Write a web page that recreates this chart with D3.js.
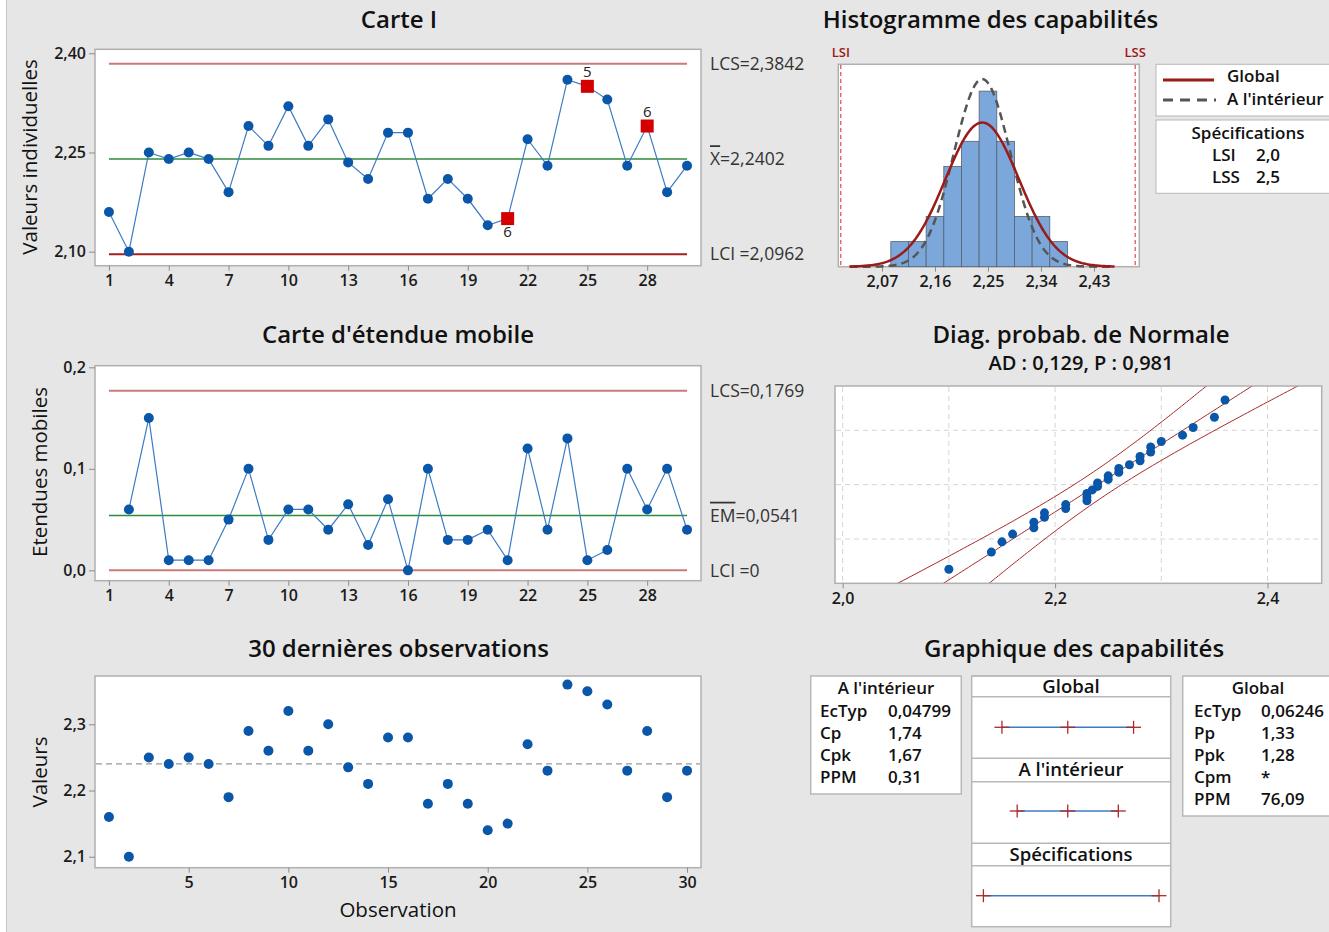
<!DOCTYPE html>
<html>
<head>
<meta charset="utf-8">
<script src="https://cdn.jsdelivr.net/npm/d3@7"></script>
<style>
  body { margin: 0; background: #fff; }
  text { font-family: "Open Sans", "Noto Sans", sans-serif; }
</style>
</head>
<body>
<svg id="chart"></svg>
<script>
// chart data
var observations = d3.range(1, 31);
var values = [2.16, 2.10, 2.25, 2.24, 2.25, 2.24, 2.19, 2.29, 2.26, 2.32,
              2.26, 2.30, 2.235, 2.21, 2.28, 2.28, 2.18, 2.21, 2.18, 2.14,
              2.15, 2.27, 2.23, 2.36, 2.35, 2.33, 2.23, 2.29, 2.19, 2.23];
// moving ranges for observations 2..30
var movingRanges = [0.06, 0.15, 0.01, 0.01, 0.01, 0.05, 0.10, 0.03, 0.06, 0.06,
                    0.04, 0.065, 0.025, 0.07, 0.00, 0.10, 0.03, 0.03, 0.04, 0.01,
                    0.12, 0.04, 0.13, 0.01, 0.02, 0.10, 0.06, 0.10, 0.04];
var flaggedObs = [21, 25, 28];
var flaggedLabels = ["6", "5", "6"];
var flaggedAbove = [false, true, true];

var iLimits = [2.3842, 2.2402, 2.0962];
var iLimitNames = ["LCS=2,3842", "X", "LCI =2,0962"];
var mrLimits = [0.1769, 0.0541, 0];
var mrLimitNames = ["LCS=0,1769", "EM", "LCI =0"];

var binEdges = [2.085, 2.115, 2.145, 2.175, 2.205, 2.235, 2.265, 2.295, 2.325, 2.355, 2.385];
var binCounts = [1, 1, 2, 4, 5, 7, 5, 2, 2, 1];

var mean = 2.2402;
var sdWithin = 0.04799;
var sdOverall = 0.06246;
var specLimits = [2.0, 2.5];

var iXTicks = [1, 4, 7, 10, 13, 16, 19, 22, 25, 28];
var iYTicks = [2.10, 2.25, 2.40];
var mrYTicks = [0.0, 0.1, 0.2];
var lastXTicks = [5, 10, 15, 20, 25, 30];
var lastYTicks = [2.1, 2.2, 2.3];
var histTicks = [2.07, 2.16, 2.25, 2.34, 2.43];
var probTicks = [2.0, 2.2, 2.4];
var probGridX = [2.0, 2.1, 2.2, 2.3, 2.4];
var probGridP = [0.1, 0.5, 0.9];

var withinLabels = ["EcTyp", "Cp", "Cpk", "PPM"];
var withinValues = ["0,04799", "1,74", "1,67", "0,31"];
var overallLabels = ["EcTyp", "Pp", "Ppk", "Cpm", "PPM"];
var overallValues = ["0,06246", "1,33", "1,28", "*", "76,09"];

var W = 1329, H = 932;
var FONT = '"Open Sans", "Noto Sans", sans-serif';
var BLUE = "#0a56a8";
var LINEBLUE = "#3c7cc4";
var PINK = "#c97a7a";
var DARKRED = "#a32020";
var GREEN = "#2e8b3e";
var TITLE_SIZE = 24;
var LABEL_SIZE = 20.5;

var fr = d3.formatLocale({decimal: ",", thousands: " ", grouping: [3], currency: ["", " €"]});

var svg = d3.select("#chart").attr("width", W).attr("height", H);
svg.append("rect").attr("width", W).attr("height", H).attr("fill", "#fff");
svg.append("rect").attr("x", 6).attr("width", W - 6).attr("height", H).attr("fill", "#e6e6e6");
svg.append("line").attr("x1", 6.5).attr("x2", 6.5).attr("y1", 0).attr("y2", H)
  .attr("stroke", "#c4c4c4");

function title(txt, x, y, size) {
  svg.append("text").attr("x", x).attr("y", y).attr("text-anchor", "middle")
    .attr("font-size", size || TITLE_SIZE).attr("font-weight", 600).attr("fill", "#111")
    .text(txt);
}

function frame(x0, y0, x1, y1) {
  svg.append("rect").attr("x", x0).attr("y", y0).attr("width", x1 - x0).attr("height", y1 - y0)
    .attr("fill", "#fff").attr("stroke", "#b0b0b0").attr("stroke-width", 1.5);
}

function styleAxis(g) {
  g.select(".domain").remove();
  g.attr("font-family", FONT).attr("font-size", 16).attr("font-weight", 600);
  g.selectAll(".tick line").attr("stroke", "#8c8c8c");
  g.selectAll(".tick text").attr("fill", "#1a1a1a");
}

function yLabel(txt, x, y) {
  svg.append("text").attr("transform", "translate(" + x + "," + y + ") rotate(-90)")
    .attr("text-anchor", "middle").attr("dy", "0.35em")
    .attr("font-size", LABEL_SIZE).attr("fill", "#111").text(txt);
}

function limitLabel(name, x, y, tail) {
  var t = svg.append("text").attr("x", x).attr("y", y).attr("dy", "0.36em")
    .attr("font-size", 17.5).attr("fill", "#333");
  if (tail) {
    t.append("tspan").style("text-decoration", "overline").text(name);
    t.append("tspan").text(tail);
  } else {
    t.text(name);
  }
}

// ---------- Carte I ----------
var xObs = d3.scaleLinear().domain([0.3, 30.7]).range([95, 701]);
var yI = d3.scaleLinear().domain([2.0788, 2.406]).range([265.7, 49.3]);

title("Carte I", 399, 28);
frame(95, 49.3, 701, 265.7);
svg.append("g").attr("transform", "translate(0,265.7)")
  .call(d3.axisBottom(xObs).tickValues(iXTicks).tickSize(5).tickPadding(4).tickFormat(d3.format("d")))
  .call(styleAxis);
svg.append("g").attr("transform", "translate(95,0)")
  .call(d3.axisLeft(yI).tickValues(iYTicks).tickSize(6).tickPadding(3).tickFormat(fr.format(".2f")))
  .call(styleAxis);
yLabel("Valeurs individuelles", 30, 157);

var iColors = [PINK, GREEN, DARKRED];
iLimits.forEach(function(v, i) {
  svg.append("line").attr("x1", xObs(1)).attr("x2", xObs(30))
    .attr("y1", yI(v)).attr("y2", yI(v))
    .attr("stroke", iColors[i]).attr("stroke-width", i === 1 ? 1.5 : 2);
});
limitLabel(iLimitNames[0], 710, yI(iLimits[0]));
limitLabel(iLimitNames[1], 710, yI(iLimits[1]), "=2,2402");
limitLabel(iLimitNames[2], 710, yI(iLimits[2]));

svg.append("path").datum(values)
  .attr("fill", "none").attr("stroke", LINEBLUE).attr("stroke-width", 1.2)
  .attr("d", d3.line().x(function(d, i) { return xObs(observations[i]); }).y(function(d) { return yI(d); }));
svg.append("g").selectAll("circle").data(values).enter().append("circle")
  .attr("cx", function(d, i) { return xObs(observations[i]); })
  .attr("cy", function(d) { return yI(d); })
  .attr("r", 5).attr("fill", BLUE);
flaggedObs.forEach(function(o, k) {
  var v = values[o - 1];
  svg.append("rect").attr("x", xObs(o) - 6.5).attr("y", yI(v) - 6.5)
    .attr("width", 13).attr("height", 13).attr("fill", "#d40000");
  svg.append("text").attr("x", xObs(o)).attr("y", flaggedAbove[k] ? yI(v) - 9 : yI(v) + 18)
    .attr("text-anchor", "middle").attr("font-size", 15).attr("fill", "#222")
    .text(flaggedLabels[k]);
});

// ---------- Carte d'étendue mobile ----------
var yMR = d3.scaleLinear().domain([-0.0102, 0.2016]).range([580.7, 365.7]);

title("Carte d'étendue mobile", 398, 343);
frame(95, 365.7, 701, 580.7);
svg.append("g").attr("transform", "translate(0,580.7)")
  .call(d3.axisBottom(xObs).tickValues(iXTicks).tickSize(5).tickPadding(4).tickFormat(d3.format("d")))
  .call(styleAxis);
svg.append("g").attr("transform", "translate(95,0)")
  .call(d3.axisLeft(yMR).tickValues(mrYTicks).tickSize(6).tickPadding(3).tickFormat(fr.format(".1f")))
  .call(styleAxis);
yLabel("Etendues mobiles", 40, 472);

var mrColors = [PINK, GREEN, PINK];
mrLimits.forEach(function(v, i) {
  svg.append("line").attr("x1", xObs(1)).attr("x2", xObs(30))
    .attr("y1", yMR(v)).attr("y2", yMR(v))
    .attr("stroke", mrColors[i]).attr("stroke-width", i === 1 ? 1.5 : 2);
});
limitLabel(mrLimitNames[0], 710, yMR(mrLimits[0]));
limitLabel(mrLimitNames[1], 710, yMR(mrLimits[1]), "=0,0541");
limitLabel(mrLimitNames[2], 710, yMR(mrLimits[2]));

svg.append("path").datum(movingRanges)
  .attr("fill", "none").attr("stroke", LINEBLUE).attr("stroke-width", 1.2)
  .attr("d", d3.line().x(function(d, i) { return xObs(observations[i + 1]); }).y(function(d) { return yMR(d); }));
svg.append("g").selectAll("circle").data(movingRanges).enter().append("circle")
  .attr("cx", function(d, i) { return xObs(observations[i + 1]); })
  .attr("cy", function(d) { return yMR(d); })
  .attr("r", 5).attr("fill", BLUE);

// ---------- 30 dernières observations ----------
var yV = d3.scaleLinear().domain([2.0834, 2.373]).range([867.7, 676]);

title("30 dernières observations", 398.5, 657);
frame(95, 676, 701, 867.7);
svg.append("g").attr("transform", "translate(0,867.7)")
  .call(d3.axisBottom(xObs).tickValues(lastXTicks).tickSize(5).tickPadding(4).tickFormat(d3.format("d")))
  .call(styleAxis);
svg.append("g").attr("transform", "translate(95,0)")
  .call(d3.axisLeft(yV).tickValues(lastYTicks).tickSize(6).tickPadding(3).tickFormat(fr.format(".1f")))
  .call(styleAxis);
yLabel("Valeurs", 40, 772);
svg.append("text").attr("x", 398).attr("y", 910).attr("dy", "0.35em").attr("text-anchor", "middle")
  .attr("font-size", LABEL_SIZE).attr("fill", "#111").text("Observation");

svg.append("line").attr("x1", 96).attr("x2", 700).attr("y1", yV(mean)).attr("y2", yV(mean))
  .attr("stroke", "#9a9a9a").attr("stroke-width", 1.2).attr("stroke-dasharray", "6,4");
svg.append("g").selectAll("circle").data(values).enter().append("circle")
  .attr("cx", function(d, i) { return xObs(observations[i]); })
  .attr("cy", function(d) { return yV(d); })
  .attr("r", 5).attr("fill", BLUE);

// ---------- Histogramme des capabilités ----------
var xH = d3.scaleLinear().domain([1.9958, 2.507]).range([838.3, 1139.3]);
var yH = d3.scaleLinear().domain([0, 8.07]).range([266.7, 64.3]);

title("Histogramme des capabilités", 990.5, 28);
frame(838.3, 64.3, 1139.3, 266.7);
svg.append("g").attr("transform", "translate(0,266.7)")
  .call(d3.axisBottom(xH).tickValues(histTicks).tickSize(5).tickPadding(4).tickFormat(fr.format(".2f")))
  .call(styleAxis);

svg.append("g").selectAll("rect").data(binCounts).enter().append("rect")
  .attr("x", function(d, i) { return xH(binEdges[i]); })
  .attr("y", function(d) { return yH(d); })
  .attr("width", function(d, i) { return xH(binEdges[i + 1]) - xH(binEdges[i]); })
  .attr("height", function(d) { return yH(0) - yH(d); })
  .attr("fill", "#7ba7db").attr("stroke", "#56606e").attr("stroke-width", 0.8);

specLimits.forEach(function(v, i) {
  svg.append("line").attr("x1", xH(v)).attr("x2", xH(v)).attr("y1", 65).attr("y2", 266)
    .attr("stroke", "#e0484c").attr("stroke-width", 1.2).attr("stroke-dasharray", "4,3");
  svg.append("text").attr("x", xH(v)).attr("y", 52).attr("dy", "0.35em").attr("text-anchor", "middle")
    .attr("font-size", 13).attr("font-weight", 600).attr("fill", "#a01818")
    .text(i === 0 ? "LSI" : "LSS");
});

// fitted normal curves, scaled to counts (n * bin width)
function normalCurve(sd) {
  var k = values.length * (binEdges[1] - binEdges[0]);
  return d3.range(2.015, 2.4675, 0.0025).map(function(x) {
    var z = (x - mean) / sd;
    return [x, k * Math.exp(-0.5 * z * z) / (sd * Math.sqrt(2 * Math.PI))];
  });
}
var curveLine = d3.line().x(function(d) { return xH(d[0]); }).y(function(d) { return yH(d[1]); });
svg.append("path").datum(normalCurve(sdWithin)).attr("d", curveLine)
  .attr("fill", "none").attr("stroke", "#555").attr("stroke-width", 2.5).attr("stroke-dasharray", "8,5");
svg.append("path").datum(normalCurve(sdOverall)).attr("d", curveLine)
  .attr("fill", "none").attr("stroke", "#9b1b1b").attr("stroke-width", 2.5);

// legend
svg.append("rect").attr("x", 1156).attr("y", 64.3).attr("width", 190).attr("height", 51.7)
  .attr("fill", "#fff").attr("stroke", "#b8b8b8");
svg.append("line").attr("x1", 1163).attr("x2", 1214).attr("y1", 80).attr("y2", 80)
  .attr("stroke", "#9b1b1b").attr("stroke-width", 3);
svg.append("line").attr("x1", 1163).attr("x2", 1216).attr("y1", 100).attr("y2", 100)
  .attr("stroke", "#555").attr("stroke-width", 3).attr("stroke-dasharray", "10,7");
svg.append("text").attr("x", 1227).attr("y", 76).attr("dy", "0.35em").attr("font-size", 17)
  .attr("font-weight", 600).attr("fill", "#111").text("Global");
svg.append("text").attr("x", 1227).attr("y", 99).attr("dy", "0.35em").attr("font-size", 17)
  .attr("font-weight", 600).attr("fill", "#111").text("A l'intérieur");

svg.append("rect").attr("x", 1156).attr("y", 120).attr("width", 190).attr("height", 73.3)
  .attr("fill", "#fff").attr("stroke", "#b8b8b8");
svg.append("text").attr("x", 1248).attr("y", 133).attr("dy", "0.35em").attr("text-anchor", "middle")
  .attr("font-size", 17).attr("font-weight", 600).attr("fill", "#111").text("Spécifications");
["LSI", "LSS"].forEach(function(nm, i) {
  svg.append("text").attr("x", 1212).attr("y", 155 + i * 22).attr("dy", "0.35em")
    .attr("font-size", 17).attr("font-weight", 600).attr("fill", "#111").text(nm);
  svg.append("text").attr("x", 1256).attr("y", 155 + i * 22).attr("dy", "0.35em")
    .attr("font-size", 17).attr("font-weight", 600).attr("fill", "#111").text(fr.format(".1f")(specLimits[i]));
});

// ---------- Diag. probab. de Normale ----------
function probit(p) {
  var a = [-3.969683028665376e+01, 2.209460984245205e+02, -2.759285104469687e+02,
           1.383577518672690e+02, -3.066479806614716e+01, 2.506628277459239e+00];
  var b = [-5.447609879822406e+01, 1.615858368580409e+02, -1.556989798598866e+02,
           6.680131188771972e+01, -1.328068155922803e+01];
  var c = [-7.784894002430293e-03, -3.223964580411365e-01, -2.400758277161838e+00,
           -2.549732539343734e+00, 4.374664141464968e+00, 2.938163982698783e+00];
  var d = [7.784695709041462e-03, 3.224671290700398e-01, 2.445134137142996e+00,
           3.754408661907416e+00];
  var q, r;
  if (p < 0.02425) {
    q = Math.sqrt(-2 * Math.log(p));
    return (((((c[0]*q+c[1])*q+c[2])*q+c[3])*q+c[4])*q+c[5]) / ((((d[0]*q+d[1])*q+d[2])*q+d[3])*q+1);
  }
  if (p > 1 - 0.02425) {
    q = Math.sqrt(-2 * Math.log(1 - p));
    return -(((((c[0]*q+c[1])*q+c[2])*q+c[3])*q+c[4])*q+c[5]) / ((((d[0]*q+d[1])*q+d[2])*q+d[3])*q+1);
  }
  q = p - 0.5; r = q * q;
  return (((((a[0]*r+a[1])*r+a[2])*r+a[3])*r+a[4])*r+a[5])*q / (((((b[0]*r+b[1])*r+b[2])*r+b[3])*r+b[4])*r+1);
}

var xP = d3.scaleLinear().domain([1.9928, 2.451]).range([835, 1321.7]);
var yP = d3.scaleLinear().domain([-2.326, 2.326]).range([583.3, 386]);

title("Diag. probab. de Normale", 1081, 343);
svg.append("text").attr("x", 1081).attr("y", 370).attr("text-anchor", "middle")
  .attr("font-size", 20).attr("font-weight", 600).attr("fill", "#111").text("AD : 0,129, P : 0,981");
frame(835, 386, 1321.7, 583.3);
svg.append("g").attr("transform", "translate(0,583.3)")
  .call(d3.axisBottom(xP).tickValues(probTicks).tickSize(5).tickPadding(4).tickFormat(fr.format(".1f")))
  .call(styleAxis);

svg.append("g").selectAll("line").data(probGridX).enter().append("line")
  .attr("x1", function(d) { return xP(d); }).attr("x2", function(d) { return xP(d); })
  .attr("y1", 387).attr("y2", 582.5)
  .attr("stroke", "#d4d4d4").attr("stroke-dasharray", "5,4");
svg.append("g").selectAll("line").data(probGridP).enter().append("line")
  .attr("x1", 836).attr("x2", 1321)
  .attr("y1", function(d) { return yP(probit(d)); }).attr("y2", function(d) { return yP(probit(d)); })
  .attr("stroke", "#d4d4d4").attr("stroke-dasharray", "5,4");

svg.append("clipPath").attr("id", "probClip").append("rect")
  .attr("x", 835.5).attr("y", 386.5).attr("width", 485.5).attr("height", 196.3);
var bandG = svg.append("g").attr("clip-path", "url(#probClip)");
var zs = d3.range(-2.8, 2.81, 0.05);
var n = values.length;
function band(sign) {
  return zs.map(function(z) {
    var half = 1.96 * sdOverall * Math.sqrt(1 / n + z * z / (2 * n));
    return [mean + sdOverall * z + sign * half, z];
  });
}
var probLine = d3.line().x(function(d) { return xP(d[0]); }).y(function(d) { return yP(d[1]); });
[band(-1), band(0), band(1)].forEach(function(b) {
  bandG.append("path").datum(b).attr("d", probLine)
    .attr("fill", "none").attr("stroke", "#a8282a").attr("stroke-width", 1);
});

var sorted = values.slice().sort(d3.ascending);
svg.append("g").selectAll("circle").data(sorted).enter().append("circle")
  .attr("cx", function(d) { return xP(d); })
  .attr("cy", function(d, i) { return yP(probit((i + 1 - 0.3) / (n + 0.4))); })
  .attr("r", 4.5).attr("fill", BLUE);

// ---------- Graphique des capabilités ----------
title("Graphique des capabilités", 1074, 657);

function statBox(x0, y0, w, h, head, headX, labels, vals, labX, valX) {
  svg.append("rect").attr("x", x0).attr("y", y0).attr("width", w).attr("height", h)
    .attr("fill", "#fff").attr("stroke", "#b8b8b8").attr("stroke-width", 1.5);
  svg.append("text").attr("x", headX).attr("y", 688.5).attr("dy", "0.35em").attr("text-anchor", "middle")
    .attr("font-size", 17).attr("font-weight", 600).attr("fill", "#111").text(head);
  labels.forEach(function(l, i) {
    var y = 711 + i * 21.9;
    svg.append("text").attr("x", labX).attr("y", y).attr("dy", "0.35em")
      .attr("font-size", 17).attr("font-weight", 600).attr("fill", "#111").text(l);
    svg.append("text").attr("x", valX).attr("y", y).attr("dy", "0.35em")
      .attr("font-size", 17).attr("font-weight", 600).attr("fill", "#111").text(vals[i]);
  });
}
statBox(810.7, 676, 150.6, 118, "A l'intérieur", 886, withinLabels, withinValues, 820, 888);
statBox(1182.7, 676, 170, 140, "Global", 1258, overallLabels, overallValues, 1194, 1261);

var xC = d3.scaleLinear().domain([1.9667, 2.5333]).range([971.7, 1170.7]);
svg.append("rect").attr("x", 971.7).attr("y", 676).attr("width", 199).attr("height", 250.7)
  .attr("fill", "#fff").attr("stroke", "#b8b8b8").attr("stroke-width", 1.5);
var capHeads = ["Global", "A l'intérieur", "Spécifications"];
var headTop = [676, 758.3, 843.3];
var headBottom = [696.7, 781.7, 865.7];
var rowY = [727.3, 811, 895.7];
var capPoints = [
  [mean - 3 * sdOverall, mean, mean + 3 * sdOverall],
  [mean - 3 * sdWithin, mean, mean + 3 * sdWithin],
  specLimits
];
capHeads.forEach(function(h, i) {
  svg.append("line").attr("x1", 971.7).attr("x2", 1170.7).attr("y1", headTop[i]).attr("y2", headTop[i])
    .attr("stroke", "#b8b8b8").attr("stroke-width", 1.5);
  svg.append("line").attr("x1", 971.7).attr("x2", 1170.7).attr("y1", headBottom[i]).attr("y2", headBottom[i])
    .attr("stroke", "#b8b8b8").attr("stroke-width", 1.5);
  svg.append("text").attr("x", 1071).attr("y", (headTop[i] + headBottom[i]) / 2).attr("dy", "0.35em")
    .attr("text-anchor", "middle").attr("font-size", 18.5).attr("font-weight", 600).attr("fill", "#111").text(h);
  var pts = capPoints[i];
  svg.append("line").attr("x1", xC(pts[0])).attr("x2", xC(pts[pts.length - 1]))
    .attr("y1", rowY[i]).attr("y2", rowY[i]).attr("stroke", "#3c7cc4").attr("stroke-width", 1.5);
  pts.forEach(function(p) {
    var g = svg.append("g").attr("stroke", "#b0282a").attr("stroke-width", 1.3);
    g.append("line").attr("x1", xC(p) - 7.5).attr("x2", xC(p) + 7.5).attr("y1", rowY[i]).attr("y2", rowY[i]);
    g.append("line").attr("x1", xC(p)).attr("x2", xC(p)).attr("y1", rowY[i] - 6.5).attr("y2", rowY[i] + 6.5);
  });
});
</script>
</body>
</html>
